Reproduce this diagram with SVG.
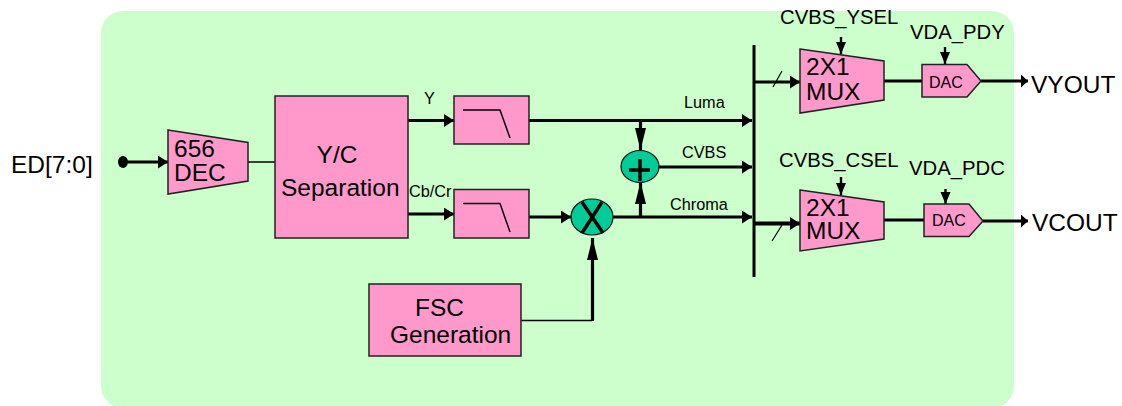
<svg xmlns="http://www.w3.org/2000/svg" width="1122" height="406" viewBox="0 0 1122 406">
<style>
text{font-family:"Liberation Sans",Arial,sans-serif;fill:#000}
.b{fill:#FF99CC;stroke:#222;stroke-width:1.5}
.c{fill:#00CC99;stroke:#111;stroke-width:1.2}
.t24{font-size:24.500px}.t20{font-size:20.300px}.t16{font-size:16.300px}.d{font-size:16px}
.w{fill:none;stroke:#000;stroke-width:3.2}
.n{fill:none;stroke:#000;stroke-width:1.5}
.a{fill:none;stroke:#000;stroke-width:3.2;marker-end:url(#ah)}
.l{fill:none;stroke:#000;stroke-width:3.2;marker-end:url(#al)}
.s{fill:none;stroke:#000;stroke-width:2.4;marker-end:url(#as)}
.o{fill:none;stroke:#000;stroke-width:3.2;marker-end:url(#ao)}
</style>
<defs>
<marker id="ah" markerUnits="userSpaceOnUse" markerWidth="12" markerHeight="14" refX="10" refY="6.500" orient="auto"><path d="M0 0L10 6.500L0 13z" fill="#000"/></marker>
<marker id="al" markerUnits="userSpaceOnUse" markerWidth="24" markerHeight="12" refX="22" refY="5.500" orient="auto"><path d="M0 0L22 5.500L0 11z" fill="#000"/></marker>
<marker id="as" markerUnits="userSpaceOnUse" markerWidth="14" markerHeight="12" refX="12" refY="5" orient="auto"><path d="M0 0L12 5L0 10z" fill="#000"/></marker>
<marker id="ao" markerUnits="userSpaceOnUse" markerWidth="9" markerHeight="14" refX="7" refY="6.500" orient="auto"><path d="M0 0L7 6.500L0 13z" fill="#000"/></marker>
</defs>
<rect id="background" x="101" y="11" width="913" height="397" rx="22" fill="#CCFFCC"/>
<g id="connectors">
<path class="n" d="M248 162H275"/>
<path class="a" d="M123 162H168"/>
<path class="a" d="M408 120.500H454"/>
<path class="a" d="M408 214H454"/>
<path class="a" d="M529 120.500H752"/>
<path class="a" d="M529 217H571"/>
<path class="a" d="M613 217H752"/>
<path class="a" d="M659 167H752"/>
<path class="l" d="M640.500 120V150"/>
<path class="l" d="M640.500 217V182"/>
<path class="n" d="M521 320.500H592"/>
<path class="l" d="M592.500 321V238"/>
<path d="M754 45V277" fill="none" stroke="#000" stroke-width="3"/>
<path class="a" d="M754 82H800"/>
<path class="a" d="M754 223.500H800" style="stroke-width:4"/>
<path d="M773 87L782 71M772 241L782 225" fill="none" stroke="#000" stroke-width="1.200"/>
<path class="w" d="M884 81H922"/>
<path class="w" d="M884 220H924"/>
<path class="o" d="M981 81H1028"/>
<path class="o" d="M983 221H1028"/>
<path class="s" d="M841 37V54"/>
<path class="s" d="M945 47V64"/>
<path class="s" d="M841 177V195"/>
<path class="s" d="M945.500 189V204"/>
<ellipse cx="123" cy="162" rx="5" ry="6" fill="#000"/>
</g>
<g id="input-label"><text class="t24" x="11" y="173">ED[7:0]</text></g>
<g id="dec656">
<path class="b" d="M168 130L248 142.500V181L168 194z"/>
<text class="t24" x="174" y="157">656</text>
<text class="t24" x="174" y="181">DEC</text>
</g>
<g id="yc-separation">
<rect class="b" x="275" y="96" width="133" height="142"/>
<text class="t24" x="337" y="163" text-anchor="middle">Y/C</text>
<text class="t24" x="281" y="196">Separation</text>
</g>
<g id="label-y"><text class="t16" x="424" y="104">Y</text></g>
<g id="label-cbcr"><text class="t16" x="409" y="197">Cb/Cr</text></g>
<g id="lpf-y">
<rect class="b" x="454" y="96" width="75" height="48"/>
<path class="n" d="M463 110H500L510 138"/>
</g>
<g id="lpf-c">
<rect class="b" x="454" y="189.500" width="75" height="48.500"/>
<path class="n" d="M463 203.500H500L510 232"/>
</g>
<g id="adder">
<ellipse class="c" cx="640" cy="166.500" rx="19" ry="16"/>
<path d="M629 170H650M640 159V181" fill="none" stroke="#000" stroke-width="3.500"/>
</g>
<g id="mixer">
<ellipse class="c" cx="592" cy="217" rx="21" ry="18"/>
<path d="M582 202L603 233M602 202L582 233" fill="none" stroke="#000" stroke-width="3.500"/>
</g>
<g id="fsc-generation">
<rect class="b" x="369" y="284" width="152" height="72"/>
<text class="t24" x="415" y="316">FSC</text>
<text class="t24" x="390" y="343">Generation</text>
</g>
<g id="signal-labels">
<text class="t16" x="684" y="108">Luma</text>
<text class="t16" x="682" y="158">CVBS</text>
<text class="t16" x="670" y="210">Chroma</text>
</g>
<g id="mux-y">
<path class="b" d="M800 49L884 61V100L800 113z"/>
<text class="t24" x="806" y="75">2X1</text>
<text class="t24" x="806" y="100">MUX</text>
</g>
<g id="mux-c">
<path class="b" d="M800 190L884 202V239L800 251z"/>
<text class="t24" x="806" y="216">2X1</text>
<text class="t24" x="806" y="239">MUX</text>
</g>
<g id="dac-y">
<path class="b" d="M922 64.500H967L981 81L967 97H922z"/>
<text class="d" x="929" y="88">DAC</text>
</g>
<g id="dac-c">
<path class="b" d="M924 204H969L983 221L969 236.500H924z"/>
<text class="d" x="932" y="226">DAC</text>
</g>
<g id="control-labels">
<text class="t20" x="780" y="24">CVBS_YSEL</text>
<text class="t20" x="910" y="39">VDA_PDY</text>
<text class="t20" x="779" y="167">CVBS_CSEL</text>
<text class="t20" x="909" y="175">VDA_PDC</text>
</g>
<g id="output-labels">
<text class="t24" x="1031" y="93">VYOUT</text>
<text class="t24" x="1032" y="231">VCOUT</text>
</g>
</svg>
